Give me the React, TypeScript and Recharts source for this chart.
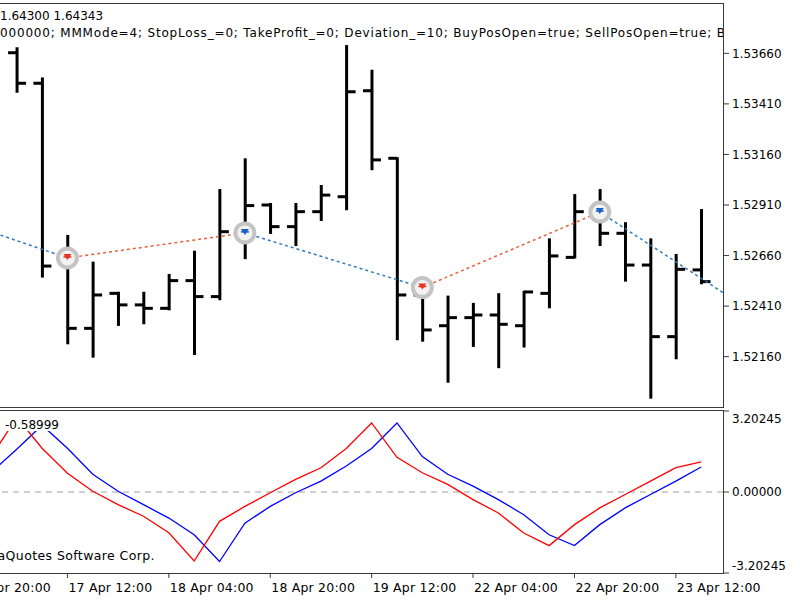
import React from 'react';
import { ComposedChart, Bar, Line, Scatter, XAxis, YAxis, ReferenceLine } from 'recharts';

// H4 bars, oldest first (bar 0 = 16 Apr 12:00)
const openPrices = [1.53663, 1.53512, 1.52622, 1.523, 1.52473, 1.52416, 1.52399, 1.52536, 1.52457, 1.52778, 1.5291, 1.52803, 1.52877, 1.52951, 1.53475, 1.53141, 1.52465, 1.52313, 1.52353, 1.52366, 1.52313, 1.52473, 1.52651, 1.52877, 1.5277, 1.52613, 1.52259, 1.52589];
const highPrices = [1.53685, 1.53536, 1.52757, 1.52625, 1.52476, 1.52476, 1.52564, 1.52679, 1.52984, 1.53136, 1.52915, 1.52915, 1.53004, 1.53696, 1.53574, 1.53141, 1.52515, 1.52457, 1.52421, 1.52469, 1.52481, 1.5274, 1.52959, 1.52984, 1.5282, 1.5274, 1.52663, 1.52885];
const lowPrices = [1.5347, 1.52556, 1.52226, 1.5216, 1.52317, 1.52325, 1.52394, 1.52173, 1.52444, 1.52647, 1.52772, 1.52712, 1.52836, 1.52889, 1.53087, 1.52246, 1.52239, 1.52036, 1.52213, 1.52108, 1.5221, 1.52404, 1.52651, 1.52712, 1.52536, 1.51957, 1.52152, 1.52523];
const closePrices = [1.53512, 1.52608, 1.523, 1.52465, 1.52416, 1.52399, 1.52536, 1.52457, 1.52778, 1.52907, 1.52803, 1.52877, 1.52959, 1.5347, 1.53133, 1.52465, 1.52292, 1.52353, 1.52366, 1.5232, 1.5248, 1.52658, 1.52877, 1.5277, 1.52613, 1.52259, 1.52592, 1.52531];

// zigzag pivots (bar index, price); first and last lie outside the visible window
const zigzagIndex = [-4, 2, 9, 16, 23, 28];
const zigzagPrices = [1.52905, 1.52648, 1.52772, 1.52502, 1.52875, 1.52465];

// trade markers
const markerIndex = [2, 9, 16, 23];
const markerPrices = [1.52648, 1.52772, 1.52502, 1.52875];
const markerColors = ['#e8321e', '#1c5fc4', '#e8321e', '#1c5fc4'];

// oscillator sub-window
const oscIndex = [-1, 0, 1, 2, 3, 4, 5, 6, 7, 8, 9, 10, 11, 12, 13, 14, 15, 16, 17, 18, 19, 20, 21, 22, 23, 24, 25, 26, 27];
const oscMain = [1.4, 2.95, 1.73, 0.74, 0.03, -0.5, -0.96, -1.61, -2.73, -1.16, -0.57, -0.03, 0.5, 0.96, 1.72, 2.73, 1.37, 0.76, 0.3, -0.3, -0.83, -1.62, -2.12, -1.29, -0.63, -0.1, 0.43, 0.96, 1.19];
const oscSignal = [0.78, 1.69, 2.64, 1.73, 0.7, 0.03, -0.5, -1.03, -1.69, -2.75, -1.23, -0.57, -0.03, 0.43, 1.03, 1.72, 2.73, 1.4, 0.7, 0.23, -0.3, -0.9, -1.69, -2.12, -1.29, -0.63, -0.1, 0.43, 0.99];

const priceTicks = [1.5216, 1.5241, 1.5266, 1.5291, 1.5316, 1.5341, 1.5366];
const oscTicks = [-3.20245, 0, 3.20245];
const timeTickIndex = [-2, 2, 6, 10, 14, 18, 22, 26];
const timeTickLabels = ['16 Apr 20:00', '17 Apr 12:00', '18 Apr 04:00', '18 Apr 20:00', '19 Apr 12:00', '22 Apr 04:00', '22 Apr 20:00', '23 Apr 12:00'];

const X_DOMAIN: [number, number] = [-0.66, 27.86];
const PRICE_DOMAIN: [number, number] = [1.51911, 1.53904];
const OSC_DOMAIN: [number, number] = [-3.20245, 3.20245];
const FONT = '"DejaVu Sans", Tahoma, sans-serif';
const FRAME = '#3a3a3a';

const ohlcData = openPrices.map((o, i) => ({
  x: i,
  o,
  h: highPrices[i],
  l: lowPrices[i],
  c: closePrices[i],
  range: [lowPrices[i], highPrices[i]],
}));

const zigzagLegs = zigzagIndex.slice(0, -1).map((x, i) => ({
  up: zigzagPrices[i + 1] > zigzagPrices[i],
  points: [
    { x, v: zigzagPrices[i] },
    { x: zigzagIndex[i + 1], v: zigzagPrices[i + 1] },
  ],
}));

const markerData = markerIndex.map((x, i) => ({ x, v: markerPrices[i], color: markerColors[i] }));
const mainData = oscIndex.map((x, i) => ({ x, v: oscMain[i] }));
const signalData = oscIndex.map((x, i) => ({ x, v: oscSignal[i] }));

// HLC bar: vertical high-low, open tick left, close tick right
function OhlcShape(props: any) {
  const { x, y, width, height, payload } = props;
  if (!payload) return null;
  const cx = x + width / 2;
  const top = Math.min(y, y + height);
  const span = Math.abs(height);
  const toY = (p: number) => top + ((payload.h - p) / (payload.h - payload.l)) * span;
  return (
    <g stroke="#000" strokeWidth={3}>
      <line x1={cx} x2={cx} y1={top - 1} y2={top + span + 1} />
      <line x1={cx - 9} x2={cx} y1={toY(payload.o)} y2={toY(payload.o)} />
      <line x1={cx} x2={cx + 9} y1={toY(payload.c)} y2={toY(payload.c)} />
    </g>
  );
}

function PivotMarker(props: any) {
  const { cx, cy, payload } = props;
  if (cx == null || cy == null) return null;
  const col = payload.color;
  return (
    <g>
      <circle cx={cx} cy={cy} r={9.5} fill="#f2f2f2" stroke="#c4c4c4" strokeWidth={4} />
      <path d={`M${cx - 4},${cy - 4} L${cx + 4},${cy - 4} L${cx},${cy + 2} Z`} fill={col} />
      <line x1={cx - 4} x2={cx + 4} y1={cy - 1} y2={cy - 1} stroke={col} strokeWidth={1.5} />
    </g>
  );
}

function TimeTick(props: any) {
  const { x, y, payload } = props;
  const i = timeTickIndex.indexOf(payload.value);
  if (i < 0) return null;
  return (
    <text x={x + 1} y={y} dy="0.71em" textAnchor="start" fontSize={12.5} letterSpacing={0.2} fontFamily={FONT} fill="#000">
      {timeTickLabels[i]}
    </text>
  );
}

function OscTick(props: any) {
  const { x, y, payload } = props;
  const shift = payload.value > 0 ? 8 : payload.value < 0 ? -7 : 0;
  return (
    <text x={x} y={y + shift} dy="0.355em" textAnchor="start" fontSize={12} fontFamily={FONT} fill="#000">
      {Number(payload.value).toFixed(5)}
    </text>
  );
}

const tickStyle = { fill: '#000', fontSize: 12, fontFamily: FONT };

export default function App() {
  return (
    <div style={{ position: 'absolute', left: 0, top: 0, width: 800, height: 600, background: '#fff', fontFamily: FONT }}>
      {/* price window */}
      <div style={{ position: 'absolute', left: 0, top: 0 }}>
        <ComposedChart width={800} height={410} data={ohlcData} margin={{ top: 4, right: 0, bottom: 3, left: 0 }}>
          <XAxis dataKey="x" type="number" domain={X_DOMAIN} allowDataOverflow hide />
          <YAxis
            orientation="right"
            type="number"
            domain={PRICE_DOMAIN}
            allowDataOverflow
            ticks={priceTicks}
            interval={0}
            width={77}
            axisLine={false}
            tickLine={{ stroke: FRAME }}
            tickSize={6}
            tickMargin={3}
            tick={tickStyle}
            tickFormatter={(v: number) => v.toFixed(5)}
          />
          {zigzagLegs.map((leg, i) => (
            <Line
              key={'zz' + i}
              data={leg.points}
              dataKey="v"
              type="linear"
              stroke={leg.up ? '#e4603a' : '#2f7cc0'}
              strokeWidth={1.5}
              strokeDasharray="3 3"
              dot={false}
              activeDot={false}
              isAnimationActive={false}
            />
          ))}
          <Scatter data={markerData} dataKey="v" shape={<PivotMarker />} isAnimationActive={false} />
          <Bar dataKey="range" barSize={18} shape={<OhlcShape />} isAnimationActive={false} />
        </ComposedChart>
      </div>

      {/* oscillator window */}
      <div style={{ position: 'absolute', left: 0, top: 410 }}>
        <ComposedChart width={800} height={190} margin={{ top: 1, right: 0, bottom: 0, left: 0 }}>
          <XAxis
            dataKey="x"
            type="number"
            domain={X_DOMAIN}
            allowDataOverflow
            ticks={timeTickIndex}
            interval={0}
            height={27}
            axisLine={false}
            tickLine={{ stroke: FRAME }}
            tickSize={5}
            tickMargin={5}
            tick={<TimeTick />}
          />
          <YAxis
            orientation="right"
            type="number"
            domain={OSC_DOMAIN}
            allowDataOverflow
            ticks={oscTicks}
            interval={0}
            width={77}
            axisLine={false}
            tickLine={{ stroke: FRAME }}
            tickSize={6}
            tickMargin={3}
            tick={<OscTick />}
          />
          <ReferenceLine y={0} stroke="#a0a0a0" strokeDasharray="6 5" />
          <Line data={signalData} dataKey="v" type="linear" stroke="#0000ff" strokeWidth={1.3} dot={false} activeDot={false} isAnimationActive={false} />
          <Line data={mainData} dataKey="v" type="linear" stroke="#ff0000" strokeWidth={1.3} dot={false} activeDot={false} isAnimationActive={false} />
        </ComposedChart>
      </div>

      {/* window frames */}
      <div style={{ position: 'absolute', left: 0, top: 3, width: 724, height: 405, boxSizing: 'border-box', borderTop: `1px solid ${FRAME}`, borderRight: `1px solid ${FRAME}`, borderBottom: `1px solid ${FRAME}`, pointerEvents: 'none' }} />
      <div style={{ position: 'absolute', left: 0, top: 410, width: 724, height: 164, boxSizing: 'border-box', borderTop: `1px solid ${FRAME}`, borderRight: `1px solid ${FRAME}`, borderBottom: `1px solid ${FRAME}`, pointerEvents: 'none' }} />

      {/* header and sub-window captions */}
      <svg width={800} height={600} style={{ position: 'absolute', left: 0, top: 0, pointerEvents: 'none' }}>
        <g fontFamily={FONT} fontSize={12} fill="#000">
          <text x={0} y={19.5}>1.64300 1.64343</text>
          <svg x={0} y={0} width={723} height={45}>
            <text x={0} y={36.5} textLength={725} lengthAdjust="spacing" fontFamily={FONT} fontSize={12}>
              000000; MMMode=4; StopLoss_=0; TakeProfit_=0; Deviation_=10; BuyPosOpen=true; SellPosOpen=true; B
            </text>
          </svg>
          <rect x={0} y={414} width={64} height={17} fill="#fff" />
          <text x={5} y={429}>-0.58999</text>
          <text x={155} y={560} textAnchor="end" fontSize={12.5} letterSpacing={0.4}>MetaQuotes Software Corp.</text>
        </g>
      </svg>
    </div>
  );
}
